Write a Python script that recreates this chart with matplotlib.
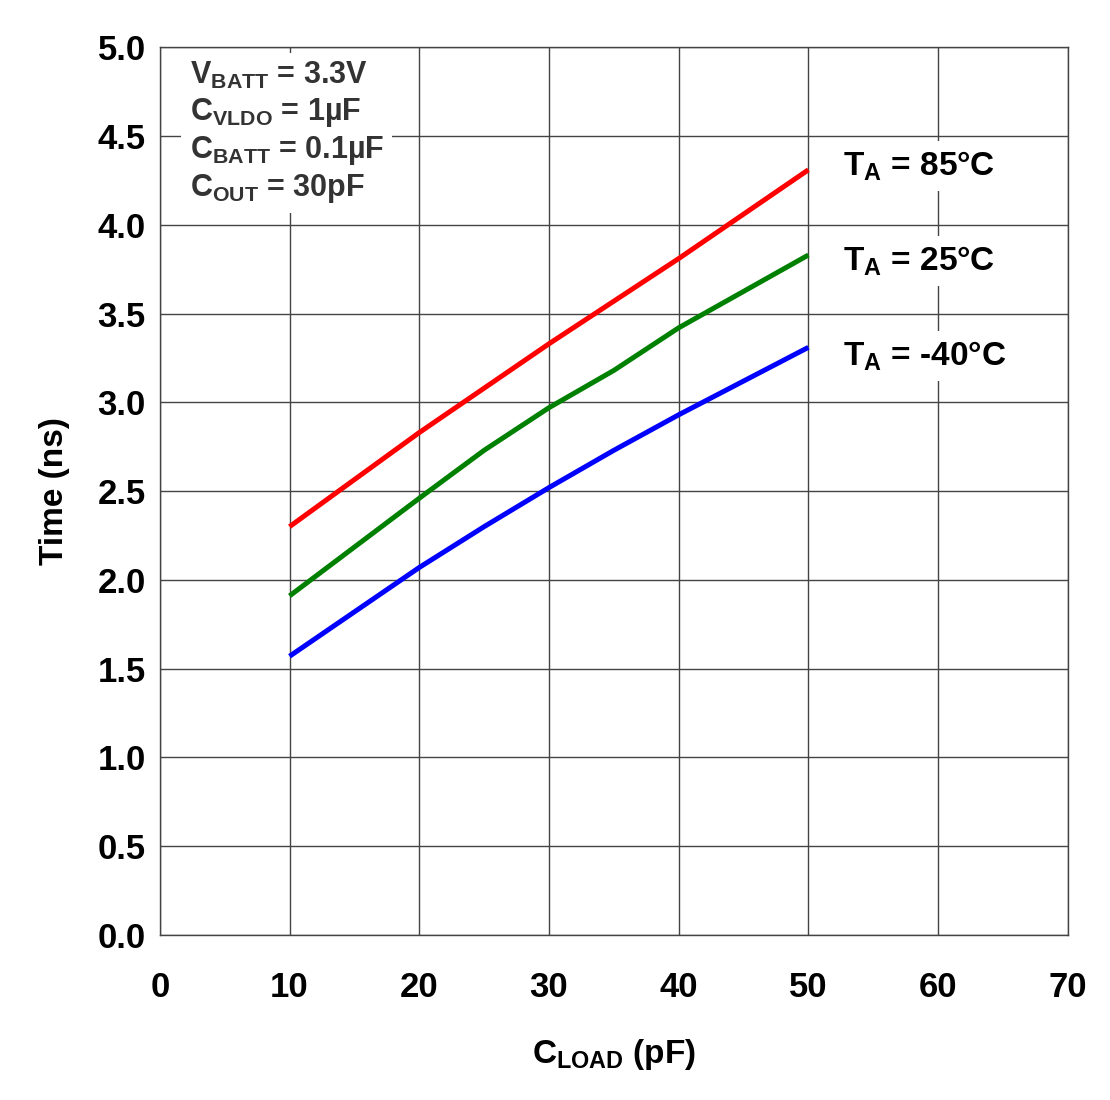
"""Rise time vs load capacitance at three ambient temperatures."""

import matplotlib
matplotlib.use("Agg")
import matplotlib.pyplot as plt

plt.rcParams["font.family"] = ["Liberation Sans", "DejaVu Sans"]
plt.rcParams["font.weight"] = "bold"
plt.rcParams["mathtext.fontset"] = "custom"
plt.rcParams["mathtext.rm"] = "Liberation Sans:bold"
plt.rcParams["mathtext.it"] = "Liberation Sans:bold"
plt.rcParams["mathtext.bf"] = "Liberation Sans:bold"

C_LOAD = [10, 20, 25, 30, 35, 40, 50]
T_85C = [2.30, 2.83, 3.08, 3.33, 3.57, 3.81, 4.31]
T_25C = [1.91, 2.46, 2.73, 2.97, 3.18, 3.42, 3.83]
T_M40C = [1.57, 2.07, 2.30, 2.52, 2.73, 2.93, 3.31]

SERIES = [
    (T_85C, "#ff0000", r"$\mathrm{T_A}$ = 85°C", 0.02),
    (T_25C, "#008000", r"$\mathrm{T_A}$ = 25°C", -0.035),
    (T_M40C, "#0000ff", r"$\mathrm{T_A}$ = -40°C", -0.05),
]
CONDITIONS = (
    r"$\mathrm{V_{BATT}}$ = 3.3V" "\n"
    r"$\mathrm{C_{VLDO}}$ = 1µF" "\n"
    r"$\mathrm{C_{BATT}}$ = 0.1µF" "\n"
    r"$\mathrm{C_{OUT}}$ = 30pF"
)

fig = plt.figure(figsize=(11.1, 11.0), dpi=100)
ax = fig.add_axes([0.144, 0.15, 0.818, 0.807])

for vals, color, label, dy in SERIES:
    ax.plot(C_LOAD, vals, color=color, linewidth=3.6, solid_capstyle="butt", zorder=3)
    ax.text(52.7, vals[-1] + dy, label, fontsize=24, fontweight="bold",
            color="black", va="center", ha="left", zorder=4,
            bbox=dict(facecolor="white", edgecolor="none", pad=6))

ax.text(2.3, 4.93, CONDITIONS, fontsize=22, fontweight="bold", color="#333333",
        va="top", ha="left", linespacing=1.21, zorder=4,
        bbox=dict(facecolor="white", edgecolor="none", pad=6))

ax.set_xlim(0, 70)
ax.set_ylim(0, 5)
ax.set_xticks(range(0, 71, 10))
ax.set_yticks([i * 0.5 for i in range(11)])
ax.set_yticklabels([f"{i * 0.5:.1f}" for i in range(11)])
ax.tick_params(length=0, labelsize=25)
ax.tick_params(axis="x", pad=26)
ax.tick_params(axis="y", pad=10)
for lbl in ax.get_xticklabels() + ax.get_yticklabels():
    lbl.set_fontweight("bold")
ax.grid(True, color="#444444", linewidth=1.0)
ax.set_axisbelow(True)
for sp in ax.spines.values():
    sp.set_color("#444444")
    sp.set_linewidth(1.0)

ax.set_xlabel(r"$\mathrm{C_{LOAD}}$ (pF)", fontsize=24, fontweight="bold", labelpad=24)
ax.set_ylabel("Time (ns)", fontsize=24, fontweight="bold", labelpad=20)

fig.savefig("out.png", dpi=100)
